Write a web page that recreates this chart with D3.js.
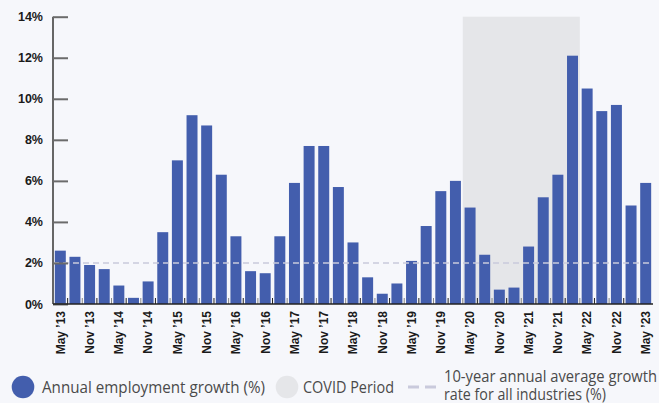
<!DOCTYPE html>
<html>
<head>
<meta charset="utf-8">
<script src="https://cdn.jsdelivr.net/npm/d3@7/dist/d3.min.js"></script>
<style>
  html, body { margin: 0; padding: 0; background: #f6f7fb; }
  svg { display: block; font-family: "Open Sans", "Noto Sans", sans-serif; }
</style>
</head>
<body>
<svg id="chart" width="659" height="403"></svg>
<script>
// Quarterly periods, May 2013 to May 2023
const periods = [
  "May '13","Aug '13","Nov '13","Feb '14","May '14","Aug '14","Nov '14","Feb '15",
  "May '15","Aug '15","Nov '15","Feb '16","May '16","Aug '16","Nov '16","Feb '17",
  "May '17","Aug '17","Nov '17","Feb '18","May '18","Aug '18","Nov '18","Feb '19",
  "May '19","Aug '19","Nov '19","Feb '20","May '20","Aug '20","Nov '20","Feb '21",
  "May '21","Aug '21","Nov '21","Feb '22","May '22","Aug '22","Nov '22","Feb '23",
  "May '23"
];
// Annual employment growth (%)
const growth = [
  2.6, 2.3, 1.9, 1.7, 0.9, 0.3, 1.1, 3.5,
  7.0, 9.2, 8.7, 6.3, 3.3, 1.6, 1.5, 3.3,
  5.9, 7.7, 7.7, 5.7, 3.0, 1.3, 0.5, 1.0,
  2.1, 3.8, 5.5, 6.0, 4.7, 2.4, 0.7, 0.8,
  2.8, 5.2, 6.3, 12.1, 10.5, 9.4, 9.7, 4.8,
  5.9
];
// Axis labels shown every half year
const tickLabels = [
  "May '13","Nov '13","May '14","Nov '14","May '15","Nov '15","May '16","Nov '16",
  "May '17","Nov '17","May '18","Nov '18","May '19","Nov '19","May '20","Nov '20",
  "May '21","Nov '21","May '22","Nov '22","May '23"
];
const yTicks = [0, 2, 4, 6, 8, 10, 12, 14];
const benchmark = 2.0;              // 10-year average for all industries
const covidRange = ["May '20", "Feb '22"];

const svg = d3.select("#chart");
const plotL = 53, plotR = 653, plotT = 16.7, plotB = 304;

const x = d3.scaleBand().domain(periods).range([plotL, plotR])
  .paddingInner(0.25).paddingOuter(0.125);
const y = d3.scaleLinear().domain([0, 14]).range([plotB, plotT]);

const blue = "#435ead";
const halfGap = x.step() * x.paddingInner() / 2;

// COVID shading
const covX0 = x(covidRange[0]) - halfGap;
const covX1 = x(covidRange[1]) + x.bandwidth() + halfGap;
svg.append("rect")
  .attr("x", covX0)
  .attr("y", y(14))
  .attr("width", covX1 - covX0)
  .attr("height", y(0) - y(14))
  .attr("fill", "#e5e6e9");

// Bars
svg.append("g").selectAll("rect").data(growth).join("rect")
  .attr("x", (d, i) => x(periods[i]))
  .attr("y", d => y(d))
  .attr("width", x.bandwidth())
  .attr("height", d => y(0) - y(d))
  .attr("fill", blue);

// Benchmark line
svg.append("line")
  .attr("x1", plotL).attr("x2", plotR)
  .attr("y1", y(benchmark)).attr("y2", y(benchmark))
  .attr("stroke", "#c9cadc").attr("stroke-width", 1.5)
  .attr("stroke-dasharray", "6,4");

// Y axis
const yAxis = d3.axisRight(y).tickValues(yTicks).tickSize(15).tickFormat(d => d + "%");
const yg = svg.append("g").attr("transform", `translate(${plotL},0)`).call(yAxis);
yg.select(".domain").attr("stroke", "#666").attr("stroke-width", 2)
  .attr("d", `M0,${y(14)}V${y(0)}`);
yg.selectAll(".tick line").attr("stroke", "#6b6b6b").attr("stroke-width", 2);
yg.selectAll(".tick text")
  .attr("x", -10).attr("text-anchor", "end")
  .attr("fill", "#1a1a1a").attr("font-size", 12.5).attr("font-weight", 700);

// Small ticks between bars along the baseline
const boundaries = periods.slice(1).map((p, i) => ({
  pos: x(p) - halfGap, dark: i % 2 === 0
}));
svg.append("g").selectAll("line").data(boundaries).join("line")
  .attr("x1", d => d.pos).attr("x2", d => d.pos)
  .attr("y1", plotB - 6).attr("y2", plotB)
  .attr("stroke", d => d.dark ? "#222" : "#888").attr("stroke-width", 1);

// X axis baseline
svg.append("line")
  .attr("x1", plotL).attr("x2", plotR)
  .attr("y1", plotB).attr("y2", plotB)
  .attr("stroke", "#222").attr("stroke-width", 1.5);

// X labels
const xAxis = d3.axisBottom(x).tickValues(tickLabels).tickSize(0)
  .tickFormat(d => d.replace("'", "\u2019"));
const xg = svg.append("g").attr("transform", `translate(0,${plotB})`).call(xAxis);
xg.select(".domain").remove();
xg.selectAll(".tick text")
  .attr("transform", "rotate(-90)")
  .attr("x", -7).attr("y", 0).attr("dy", "0.36em")
  .attr("text-anchor", "end")
  .attr("fill", "#1a1a1a").attr("font-size", 12).attr("font-weight", 700);

// Legend
const lg = svg.append("g").attr("font-size", 15.5).attr("fill", "#4a4a4a");
lg.append("circle").attr("cx", 23).attr("cy", 387).attr("r", 11.3).attr("fill", blue);
lg.append("text").attr("x", 42).attr("y", 393)
  .attr("textLength", 223).attr("lengthAdjust", "spacingAndGlyphs")
  .text("Annual employment growth (%)");
lg.append("circle").attr("cx", 287).attr("cy", 387).attr("r", 11.3).attr("fill", "#e5e6e9");
lg.append("text").attr("x", 303).attr("y", 393)
  .attr("textLength", 91).attr("lengthAdjust", "spacingAndGlyphs")
  .text("COVID Period");
lg.append("line").attr("x1", 408).attr("x2", 436).attr("y1", 387).attr("y2", 387)
  .attr("stroke", "#c9cadc").attr("stroke-width", 3).attr("stroke-dasharray", "11,6");
lg.append("text").attr("x", 444).attr("y", 382)
  .attr("textLength", 213).attr("lengthAdjust", "spacingAndGlyphs")
  .text("10-year annual average growth");
lg.append("text").attr("x", 444).attr("y", 400)
  .attr("textLength", 162).attr("lengthAdjust", "spacingAndGlyphs")
  .text("rate for all industries (%)");
</script>
</body>
</html>
